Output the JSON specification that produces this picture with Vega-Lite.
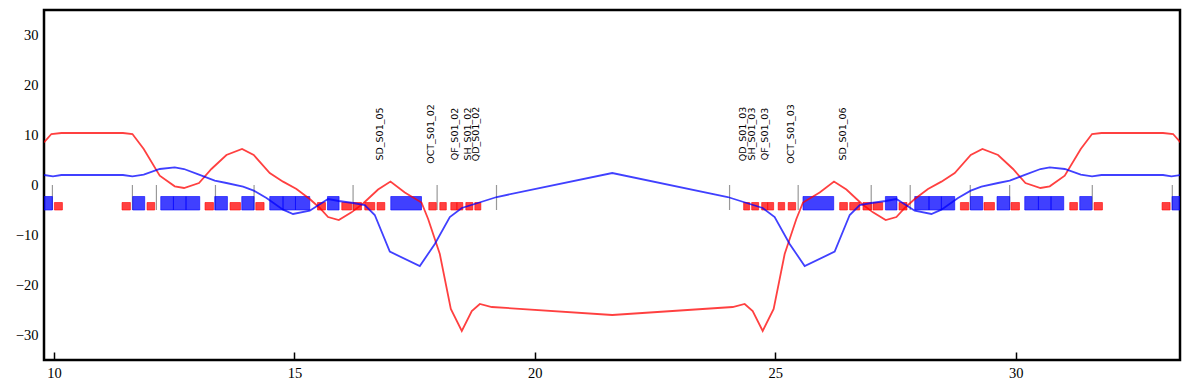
{
  "$schema": "https://vega.github.io/schema/vega-lite/v6.json",
  "width": 1136,
  "height": 350,
  "autosize": "none",
  "padding": {"left": 44, "top": 10, "right": 9, "bottom": 30},
  "config": {
    "view": {"stroke": "black", "strokeWidth": 2.5},
    "axis": {"grid": false, "domain": false, "labelFont": "Liberation Serif", "labelFontSize": 14.5, "labelColor": "black"}
  },
  "datasets": {
    "optics": [
      {"s": 9.792, "v": 8.53, "plane": "x"}, {"s": 9.946, "v": 10.2, "plane": "x"}, {"s": 10.154, "v": 10.4, "plane": "x"},
      {"s": 11.435, "v": 10.4, "plane": "x"}, {"s": 11.631, "v": 10.2, "plane": "x"}, {"s": 11.866, "v": 7.2, "plane": "x"},
      {"s": 12.199, "v": 1.87, "plane": "x"}, {"s": 12.511, "v": -0.27, "plane": "x"}, {"s": 12.704, "v": -0.6, "plane": "x"},
      {"s": 13.016, "v": 0.4, "plane": "x"}, {"s": 13.274, "v": 3.2, "plane": "x"}, {"s": 13.586, "v": 6.0, "plane": "x"},
      {"s": 13.911, "v": 7.2, "plane": "x"}, {"s": 14.154, "v": 6.0, "plane": "x"}, {"s": 14.487, "v": 2.4, "plane": "x"},
      {"s": 14.764, "v": 0.67, "plane": "x"}, {"s": 15.043, "v": -0.8, "plane": "x"}, {"s": 15.319, "v": -2.8, "plane": "x"},
      {"s": 15.527, "v": -4.6, "plane": "x"}, {"s": 15.7, "v": -6.4, "plane": "x"}, {"s": 15.923, "v": -7.0, "plane": "x"},
      {"s": 16.187, "v": -5.47, "plane": "x"}, {"s": 16.428, "v": -3.7, "plane": "x"}, {"s": 16.74, "v": -0.9, "plane": "x"},
      {"s": 16.998, "v": 0.7, "plane": "x"}, {"s": 17.296, "v": -1.5, "plane": "x"}, {"s": 17.643, "v": -3.5, "plane": "x"},
      {"s": 17.781, "v": -6.8, "plane": "x"}, {"s": 18.024, "v": -13.8, "plane": "x"}, {"s": 18.253, "v": -24.8, "plane": "x"},
      {"s": 18.481, "v": -29.2, "plane": "x"}, {"s": 18.689, "v": -25.2, "plane": "x"}, {"s": 18.856, "v": -23.8, "plane": "x"},
      {"s": 19.105, "v": -24.4, "plane": "x"}, {"s": 21.61, "v": -26.0, "plane": "x"},
      {"s": 24.115, "v": -24.4, "plane": "x"}, {"s": 24.364, "v": -23.8, "plane": "x"}, {"s": 24.531, "v": -25.2, "plane": "x"},
      {"s": 24.739, "v": -29.2, "plane": "x"}, {"s": 24.967, "v": -24.8, "plane": "x"}, {"s": 25.196, "v": -13.8, "plane": "x"},
      {"s": 25.439, "v": -6.8, "plane": "x"}, {"s": 25.577, "v": -3.5, "plane": "x"}, {"s": 25.924, "v": -1.5, "plane": "x"},
      {"s": 26.222, "v": 0.7, "plane": "x"}, {"s": 26.48, "v": -0.9, "plane": "x"}, {"s": 26.792, "v": -3.7, "plane": "x"},
      {"s": 27.033, "v": -5.47, "plane": "x"}, {"s": 27.297, "v": -7.0, "plane": "x"}, {"s": 27.52, "v": -6.4, "plane": "x"},
      {"s": 27.693, "v": -4.6, "plane": "x"}, {"s": 27.901, "v": -2.8, "plane": "x"}, {"s": 28.177, "v": -0.8, "plane": "x"},
      {"s": 28.456, "v": 0.67, "plane": "x"}, {"s": 28.733, "v": 2.4, "plane": "x"}, {"s": 29.066, "v": 6.0, "plane": "x"},
      {"s": 29.309, "v": 7.2, "plane": "x"}, {"s": 29.634, "v": 6.0, "plane": "x"}, {"s": 29.946, "v": 3.2, "plane": "x"},
      {"s": 30.204, "v": 0.4, "plane": "x"}, {"s": 30.516, "v": -0.6, "plane": "x"}, {"s": 30.709, "v": -0.27, "plane": "x"},
      {"s": 31.021, "v": 1.87, "plane": "x"}, {"s": 31.354, "v": 7.2, "plane": "x"}, {"s": 31.589, "v": 10.2, "plane": "x"},
      {"s": 31.785, "v": 10.4, "plane": "x"}, {"s": 33.066, "v": 10.4, "plane": "x"}, {"s": 33.274, "v": 10.2, "plane": "x"},
      {"s": 33.428, "v": 8.53, "plane": "x"},
      {"s": 9.792, "v": 2.0, "plane": "y"}, {"s": 9.979, "v": 1.73, "plane": "y"}, {"s": 10.154, "v": 2.0, "plane": "y"},
      {"s": 11.435, "v": 2.0, "plane": "y"}, {"s": 11.631, "v": 1.73, "plane": "y"}, {"s": 11.866, "v": 2.07, "plane": "y"},
      {"s": 12.199, "v": 3.2, "plane": "y"}, {"s": 12.511, "v": 3.53, "plane": "y"}, {"s": 12.704, "v": 3.2, "plane": "y"},
      {"s": 13.016, "v": 2.07, "plane": "y"}, {"s": 13.343, "v": 0.87, "plane": "y"}, {"s": 13.586, "v": 0.4, "plane": "y"},
      {"s": 13.932, "v": -0.33, "plane": "y"}, {"s": 14.154, "v": -1.13, "plane": "y"}, {"s": 14.419, "v": -2.6, "plane": "y"},
      {"s": 14.764, "v": -4.93, "plane": "y"}, {"s": 14.972, "v": -5.8, "plane": "y"}, {"s": 15.319, "v": -5.13, "plane": "y"},
      {"s": 15.7, "v": -2.8, "plane": "y"}, {"s": 15.923, "v": -3.2, "plane": "y"}, {"s": 16.22, "v": -3.6, "plane": "y"},
      {"s": 16.463, "v": -4.0, "plane": "y"}, {"s": 16.671, "v": -6.0, "plane": "y"}, {"s": 16.984, "v": -13.33, "plane": "y"},
      {"s": 17.608, "v": -16.2, "plane": "y"}, {"s": 17.92, "v": -11.8, "plane": "y"}, {"s": 18.232, "v": -6.4, "plane": "y"},
      {"s": 18.481, "v": -4.6, "plane": "y"}, {"s": 18.814, "v": -3.6, "plane": "y"}, {"s": 19.209, "v": -2.4, "plane": "y"},
      {"s": 21.61, "v": 2.4, "plane": "y"},
      {"s": 24.011, "v": -2.4, "plane": "y"}, {"s": 24.406, "v": -3.6, "plane": "y"}, {"s": 24.739, "v": -4.6, "plane": "y"},
      {"s": 24.988, "v": -6.4, "plane": "y"}, {"s": 25.3, "v": -11.8, "plane": "y"}, {"s": 25.612, "v": -16.2, "plane": "y"},
      {"s": 26.236, "v": -13.33, "plane": "y"}, {"s": 26.549, "v": -6.0, "plane": "y"}, {"s": 26.757, "v": -4.0, "plane": "y"},
      {"s": 27.0, "v": -3.6, "plane": "y"}, {"s": 27.297, "v": -3.2, "plane": "y"}, {"s": 27.52, "v": -2.8, "plane": "y"},
      {"s": 27.901, "v": -5.13, "plane": "y"}, {"s": 28.248, "v": -5.8, "plane": "y"}, {"s": 28.456, "v": -4.93, "plane": "y"},
      {"s": 28.801, "v": -2.6, "plane": "y"}, {"s": 29.066, "v": -1.13, "plane": "y"}, {"s": 29.288, "v": -0.33, "plane": "y"},
      {"s": 29.634, "v": 0.4, "plane": "y"}, {"s": 29.877, "v": 0.87, "plane": "y"}, {"s": 30.204, "v": 2.07, "plane": "y"},
      {"s": 30.516, "v": 3.2, "plane": "y"}, {"s": 30.709, "v": 3.53, "plane": "y"}, {"s": 31.021, "v": 3.2, "plane": "y"},
      {"s": 31.354, "v": 2.07, "plane": "y"}, {"s": 31.589, "v": 1.73, "plane": "y"}, {"s": 31.785, "v": 2.0, "plane": "y"},
      {"s": 33.066, "v": 2.0, "plane": "y"}, {"s": 33.241, "v": 1.73, "plane": "y"}, {"s": 33.428, "v": 2.0, "plane": "y"}
    ],
    "quads": [
      {"s0": 9.713, "s1": 9.967}, {"s0": 11.637, "s1": 11.887}, {"s0": 12.22, "s1": 12.484}, {"s0": 12.484, "s1": 12.746},
      {"s0": 12.746, "s1": 13.031}, {"s0": 13.343, "s1": 13.607}, {"s0": 13.905, "s1": 14.161}, {"s0": 14.487, "s1": 14.764},
      {"s0": 14.764, "s1": 15.022}, {"s0": 15.022, "s1": 15.319}, {"s0": 15.688, "s1": 15.929}, {"s0": 17.004, "s1": 17.643},
      {"s0": 25.577, "s1": 26.216}, {"s0": 27.291, "s1": 27.532}, {"s0": 27.901, "s1": 28.198}, {"s0": 28.198, "s1": 28.456},
      {"s0": 28.456, "s1": 28.733}, {"s0": 29.059, "s1": 29.315}, {"s0": 29.613, "s1": 29.877}, {"s0": 30.189, "s1": 30.474},
      {"s0": 30.474, "s1": 30.736}, {"s0": 30.736, "s1": 31.0}, {"s0": 31.333, "s1": 31.583}, {"s0": 33.253, "s1": 33.507}
    ],
    "sexts": [
      {"s0": 10.008, "s1": 10.175}, {"s0": 11.415, "s1": 11.589}, {"s0": 11.935, "s1": 12.095}, {"s0": 13.141, "s1": 13.316},
      {"s0": 13.661, "s1": 13.878}, {"s0": 14.196, "s1": 14.369}, {"s0": 15.48, "s1": 15.646}, {"s0": 15.985, "s1": 16.187},
      {"s0": 16.22, "s1": 16.395}, {"s0": 16.463, "s1": 16.671}, {"s0": 16.719, "s1": 16.88}, {"s0": 17.795, "s1": 17.951},
      {"s0": 18.024, "s1": 18.159}, {"s0": 18.253, "s1": 18.378}, {"s0": 18.378, "s1": 18.502}, {"s0": 18.565, "s1": 18.71},
      {"s0": 18.752, "s1": 18.877},
      {"s0": 24.343, "s1": 24.468}, {"s0": 24.51, "s1": 24.655}, {"s0": 24.718, "s1": 24.842}, {"s0": 24.842, "s1": 24.967},
      {"s0": 25.061, "s1": 25.196}, {"s0": 25.269, "s1": 25.425}, {"s0": 26.34, "s1": 26.501}, {"s0": 26.549, "s1": 26.757},
      {"s0": 26.825, "s1": 27.0}, {"s0": 27.033, "s1": 27.235}, {"s0": 27.574, "s1": 27.74}, {"s0": 28.851, "s1": 29.024},
      {"s0": 29.342, "s1": 29.559}, {"s0": 29.904, "s1": 30.079}, {"s0": 31.125, "s1": 31.285}, {"s0": 31.631, "s1": 31.805},
      {"s0": 33.045, "s1": 33.212}
    ],
    "markers": [
      {"s": 9.967}, {"s": 11.631}, {"s": 12.13}, {"s": 13.358}, {"s": 14.161}, {"s": 16.22}, {"s": 17.968}, {"s": 19.203},
      {"s": 24.05}, {"s": 25.477}, {"s": 26.996}, {"s": 27.807}, {"s": 29.056}, {"s": 29.875}, {"s": 31.594}, {"s": 33.258}
    ],
    "labels": [
      {"s": 16.78, "name": "SD_S01_05"}, {"s": 17.84, "name": "OCT_S01_02"}, {"s": 18.33, "name": "QF_S01_02"},
      {"s": 18.61, "name": "SH_S01_02"}, {"s": 18.77, "name": "QD_S01_02"}, {"s": 24.33, "name": "QD_S01_03"},
      {"s": 24.51, "name": "SH_S01_03"}, {"s": 24.78, "name": "QF_S01_03"}, {"s": 25.33, "name": "OCT_S01_03"},
      {"s": 26.41, "name": "SD_S01_06"}
    ]
  },
  "encoding": {
    "x": {"type": "quantitative", "scale": {"domain": [9.792, 33.418], "nice": false, "zero": false},
      "axis": {"title": null, "values": [10, 15, 20, 25, 30], "tickSize": -8, "tickWidth": 1.5, "tickColor": "black", "labelPadding": 14}},
    "y": {"type": "quantitative", "scale": {"domain": [-35, 35], "nice": false},
      "axis": {"title": null, "values": [-30, -20, -10, 0, 10, 20, 30], "ticks": false, "labelPadding": 6}}
  },
  "layer": [
    {
      "data": {"name": "markers"},
      "mark": {"type": "rule", "color": "#999999", "strokeWidth": 1.2, "clip": true},
      "encoding": {"x": {"field": "s"}, "y": {"datum": 0}, "y2": {"datum": -5}}
    },
    {
      "data": {"name": "quads"},
      "mark": {"type": "rect", "fill": "#0000ff", "fillOpacity": 0.75, "stroke": "#0000ff", "strokeOpacity": 0.75, "strokeWidth": 0.8, "clip": true},
      "encoding": {"x": {"field": "s0"}, "x2": {"field": "s1"}, "y": {"datum": -2.3}, "y2": {"datum": -5}}
    },
    {
      "data": {"name": "sexts"},
      "mark": {"type": "rect", "fill": "#ff0000", "fillOpacity": 0.75, "stroke": "#ff0000", "strokeOpacity": 0.75, "strokeWidth": 0.8, "clip": true},
      "encoding": {"x": {"field": "s0"}, "x2": {"field": "s1"}, "y": {"datum": -3.5}, "y2": {"datum": -5}}
    },
    {
      "data": {"name": "optics"},
      "mark": {"type": "line", "strokeWidth": 1.8, "opacity": 0.75, "clip": true},
      "encoding": {
        "x": {"field": "s"},
        "y": {"field": "v"},
        "color": {"field": "plane", "type": "nominal", "scale": {"domain": ["x", "y"], "range": ["#ff0000", "#0000ff"]}, "legend": null}
      }
    },
    {
      "data": {"name": "labels"},
      "mark": {"type": "text", "angle": 270, "align": "center", "baseline": "middle", "font": "DejaVu Sans", "fontSize": 9.5, "color": "black"},
      "encoding": {"x": {"field": "s"}, "y": {"datum": 10.2}, "text": {"field": "name"}}
    }
  ]
}
